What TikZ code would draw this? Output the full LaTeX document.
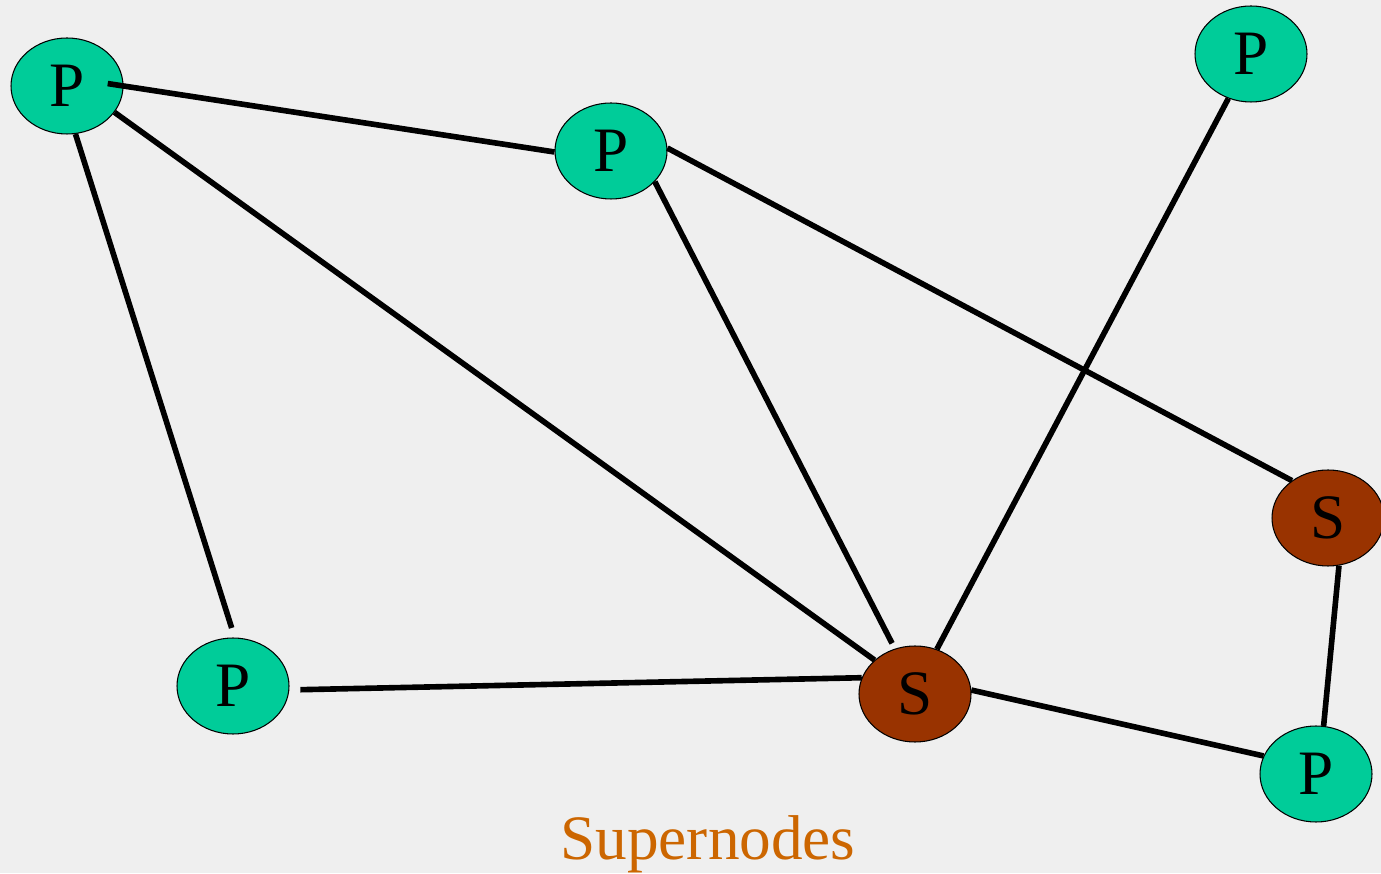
\documentclass[tikz,border=0pt]{standalone}
\usepackage{fontspec}
\setmainfont{Liberation Serif}
\usetikzlibrary{shapes.geometric}

\definecolor{peergreen}{HTML}{00CC99}
\definecolor{superbrown}{HTML}{993300}
\definecolor{titleorange}{HTML}{CC6600}
\definecolor{bggray}{HTML}{EFEFEF}

\begin{document}
\begin{tikzpicture}[
  peer/.style={draw,ellipse,fill=peergreen,line width=0.6pt,inner sep=0pt,
    minimum width=2.24cm,minimum height=1.92cm,font=\fontsize{36}{40}\selectfont},
  super/.style={peer,fill=superbrown},
  link/.style={line width=3.2pt,black}
]

\fill[bggray] (0,0) rectangle (27.62,17.46);
\useasboundingbox (0,0) rectangle (27.62,17.46);

\node[peer] (p1) at (1.34,15.74) {P};
\node[peer] (p2) at (12.22,14.44) {P};
\node[peer] (p3) at (25.02,16.38) {P};
\node[peer] (p4) at (4.66,3.74) {P};
\node[peer] (p5) at (26.32,1.98) {P};

\node[super] (s1) at (18.30,3.58) {S};
\node[super] (s2) at (26.56,7.10) {S};

\node[anchor=base,text=titleorange,font=\fontsize{36}{40}\selectfont]
  (title) at (14.16,0.28) {Supernodes};

\path
% peer links
(p1.0) edge[link, shorten <=-0.32cm] (p2.181) %
(p1.-80) edge[link, shorten >=0.2cm] (p4.88) %
(p1.-29) edge[link] (s1.140) %
(p2.-35) edge[link, shorten >=0.12cm] (s1.114) %
(p2.3) edge[link] (s2.134) %
(p3.-117) edge[link] (s1.64) %
(p4.-4) edge[link, shorten <=0.22cm] (s1.163) %

% supernode links
(s1.4) edge[link] (p5.161) %
(s2.-77) edge[link] (p5.81) %
;

\end{tikzpicture}
\end{document}
